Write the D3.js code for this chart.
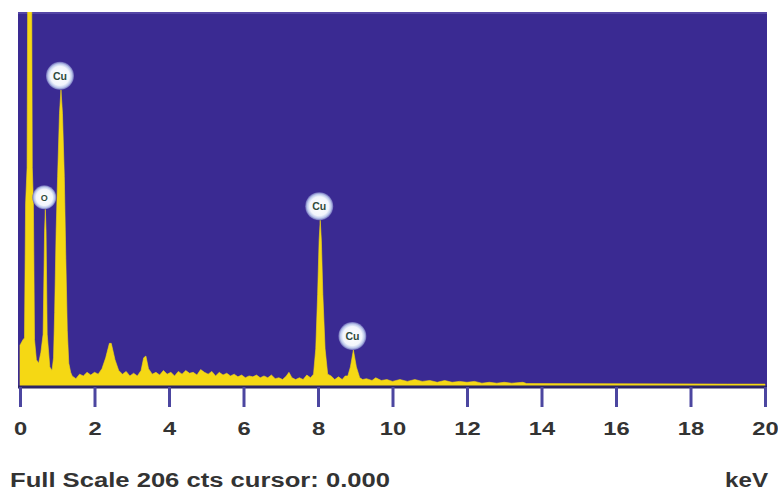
<!DOCTYPE html>
<html>
<head>
<meta charset="utf-8">
<script src="https://cdn.jsdelivr.net/npm/d3@7"></script>
<style>
  body { margin: 0; background: #fff; }
  svg text { font-family: "Liberation Sans", Arial, sans-serif; font-weight: bold; }
</style>
</head>
<body>
<svg id="chart" width="778" height="493"></svg>
<script>
// EDS spectrum: [keV, counts]
var spectrum = [
  [0.00, 22], [0.08, 25], [0.12, 26], [0.15, 100], [0.19, 120], [0.22, 300],
  [0.30, 300], [0.33, 120], [0.36, 100], [0.39, 25], [0.44, 14], [0.50, 12],
  [0.56, 18], [0.62, 28], [0.66, 85], [0.68, 97], [0.70, 85], [0.73, 28],
  [0.80, 10], [0.86, 8], [0.90, 15], [0.93, 40], [0.97, 85], [1.01, 115],
  [1.06, 150], [1.10, 163], [1.14, 150], [1.19, 115], [1.23, 70], [1.27, 30],
  [1.31, 12], [1.36, 7], [1.40, 5], [1.50, 3.5], [1.60, 6], [1.70, 5],
  [1.80, 7], [1.90, 5.5], [2.00, 7], [2.10, 6], [2.20, 9], [2.30, 15],
  [2.40, 23], [2.45, 23], [2.55, 14], [2.65, 8], [2.75, 6], [2.85, 7.5],
  [2.95, 5], [3.05, 6.5], [3.15, 5], [3.25, 8], [3.32, 15], [3.38, 16],
  [3.45, 9], [3.55, 6], [3.65, 7], [3.75, 5.5], [3.85, 8], [3.95, 6],
  [4.05, 7], [4.15, 5], [4.25, 7.5], [4.35, 6], [4.45, 8], [4.55, 6.5],
  [4.65, 7], [4.75, 5.5], [4.85, 8.5], [4.95, 7], [5.05, 6], [5.15, 7.5],
  [5.25, 5], [5.35, 7], [5.45, 5.5], [5.55, 6.5], [5.65, 5], [5.75, 6],
  [5.85, 4.5], [5.95, 5.5], [6.05, 4], [6.15, 5], [6.25, 4.5], [6.35, 5.5],
  [6.45, 4], [6.55, 5], [6.65, 4], [6.75, 5.5], [6.85, 3.5], [6.95, 4],
  [7.05, 3], [7.15, 5], [7.22, 7], [7.30, 4], [7.40, 3], [7.50, 4],
  [7.60, 3], [7.70, 5.5], [7.80, 4], [7.88, 6], [7.94, 20], [7.99, 50],
  [8.03, 80], [8.06, 91], [8.09, 80], [8.13, 50], [8.19, 20], [8.26, 6],
  [8.35, 5], [8.45, 3], [8.55, 4.5], [8.65, 3], [8.73, 5], [8.80, 5],
  [8.87, 10], [8.95, 19.3], [9.03, 10], [9.12, 4], [9.20, 3], [9.30, 3.5],
  [9.45, 2.5], [9.55, 4], [9.70, 2.5], [9.85, 3], [10.0, 2], [10.2, 3],
  [10.4, 2], [10.6, 3], [10.8, 2], [11.0, 2.5], [11.2, 1.5], [11.4, 2.5],
  [11.6, 1.5], [11.8, 2], [12.0, 1.5], [12.2, 2], [12.4, 1], [12.6, 1.5],
  [12.8, 1], [13.0, 1.5], [13.2, 1], [13.5, 1.5], [13.6, 0.8], [16.0, 0.7],
  [19.0, 0.5], [20.0, 0.5]
];

// element markers: name, keV, counts at peak top
var peakLabels = [
  { name: "O",  kev: 0.68, cts: 97 },
  { name: "Cu", kev: 1.10, cts: 163 },
  { name: "Cu", kev: 8.06, cts: 91 },
  { name: "Cu", kev: 8.95, cts: 19.3 }
];

var tickValues = [0, 2, 4, 6, 8, 10, 12, 14, 16, 18, 20];
var fullScale = 206;
var footerLeft = "Full Scale 206 cts cursor: 0.000";
var footerRight = "keV";

var LEFT = 18, RIGHT = 767, TOP = 12, BOTTOM = 386;

var svg = d3.select("#chart");

var x = d3.scaleLinear().domain([0, 20]).range([20, 765]);
var y = d3.scaleLinear().domain([0, fullScale]).range([BOTTOM - 1, TOP]);

// plot background
svg.append("rect")
  .attr("x", LEFT).attr("y", TOP)
  .attr("width", RIGHT - LEFT).attr("height", BOTTOM - TOP)
  .attr("fill", "#3a2a92");
svg.append("rect")
  .attr("x", LEFT).attr("y", TOP)
  .attr("width", RIGHT - LEFT).attr("height", 2)
  .attr("fill", "#5546a6");

svg.append("clipPath").attr("id", "plotclip")
  .append("rect")
  .attr("x", LEFT).attr("y", TOP)
  .attr("width", RIGHT - LEFT).attr("height", BOTTOM - TOP);

// spectrum fill
var area = d3.area()
  .x(function(d) { return x(d[0]); })
  .y0(y(0) + 1)
  .y1(function(d) { return y(d[1]); });

svg.append("path")
  .datum(spectrum)
  .attr("clip-path", "url(#plotclip)")
  .attr("d", area)
  .attr("fill", "#f5d814")
  .attr("stroke", "#f5d814")
  .attr("stroke-width", 0.6);

// axis
var axis = d3.axisBottom(x)
  .tickValues(tickValues)
  .tickSize(20)
  .tickSizeOuter(0)
  .tickFormat(d3.format("d"));

var gAxis = svg.append("g")
  .attr("transform", "translate(0," + (BOTTOM + 1) + ")")
  .call(axis);

gAxis.select(".domain")
  .attr("d", "M" + LEFT + ",0H" + RIGHT)
  .attr("stroke", "#2b2466")
  .attr("stroke-width", 3);
gAxis.selectAll(".tick line")
  .attr("stroke", "#4c46a0")
  .attr("stroke-width", 3);
gAxis.selectAll(".tick text")
  .attr("y", 48)
  .attr("dy", null)
  .attr("fill", "#333")
  .attr("font-size", 19)
  .attr("transform", "scale(1.25,1)");

// footer texts
svg.append("text")
  .attr("x", 10).attr("y", 487)
  .attr("font-size", 20)
  .attr("fill", "#333")
  .attr("textLength", 380)
  .attr("lengthAdjust", "spacingAndGlyphs")
  .text(footerLeft);
svg.append("text")
  .attr("x", 725).attr("y", 487)
  .attr("font-size", 20)
  .attr("fill", "#333")
  .attr("textLength", 43)
  .attr("lengthAdjust", "spacingAndGlyphs")
  .text(footerRight);

// peak markers
var grad = svg.append("defs").append("radialGradient").attr("id", "glow");
grad.append("stop").attr("offset", "0%").attr("stop-color", "#ffffff");
grad.append("stop").attr("offset", "68%").attr("stop-color", "#f2f5fc");
grad.append("stop").attr("offset", "86%").attr("stop-color", "#b9c6ea");
grad.append("stop").attr("offset", "100%").attr("stop-color", "#6e6ab8");

var marks = svg.selectAll(".peak")
  .data(peakLabels)
  .enter()
  .append("g")
  .attr("class", "peak")
  .attr("transform", function(d) {
    var r = d.name == "O" ? 12 : 14;
    return "translate(" + (x(d.kev) - 1) + "," + (y(d.cts) - r) + ")";
  });

marks.append("circle")
  .attr("r", function(d) { return d.name == "O" ? 12 : 14; })
  .attr("fill", "url(#glow)");

marks.append("text")
  .attr("text-anchor", "middle")
  .attr("dy", "0.35em")
  .attr("font-size", function(d) { return d.name == "O" ? 9 : 10.5; })
  .attr("fill", "#2e4a3c")
  .text(function(d) { return d.name; });
</script>
</body>
</html>
